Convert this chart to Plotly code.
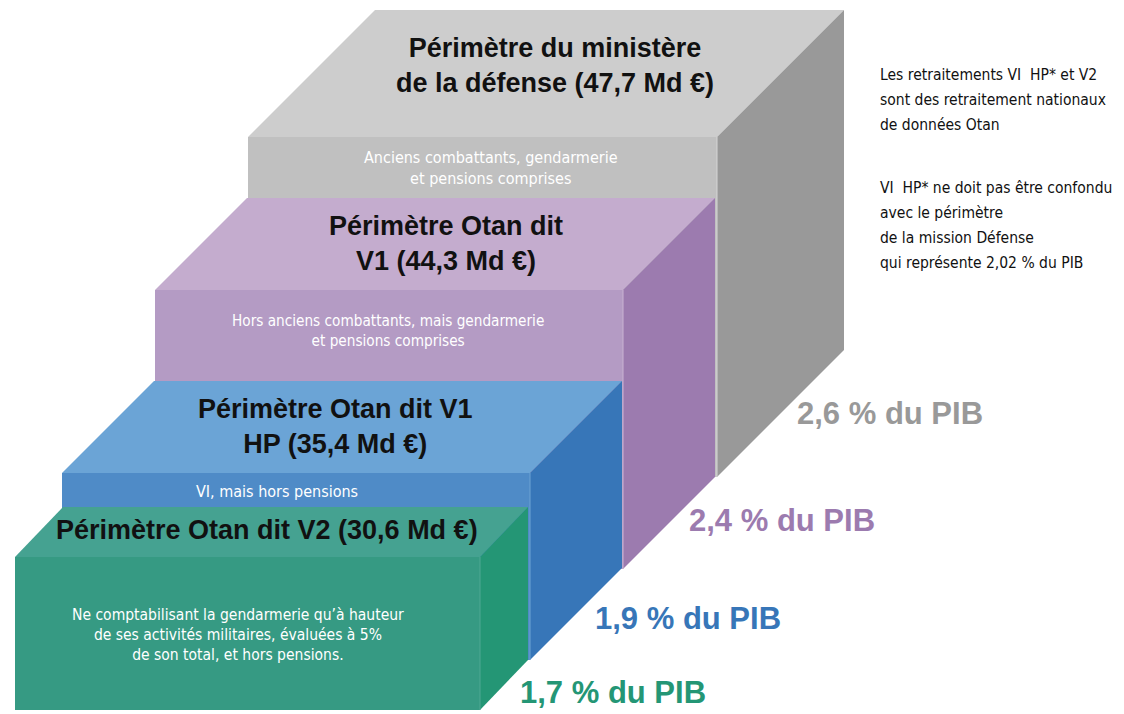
import plotly.graph_objects as go

# ---------------- data ----------------
perimetres = ["Périmètre du ministère<br>de la défense", "Périmètre Otan dit<br>V1",
              "Périmètre Otan dit V1<br>HP", "Périmètre Otan dit V2"]
montants_md = [47.7, 44.3, 35.4, 30.6]
pct_pib = [2.6, 2.4, 1.9, 1.7]
descriptions = [
    "Anciens combattants, gendarmerie<br>et pensions comprises",
    "Hors anciens combattants, mais gendarmerie<br>et pensions comprises",
    "VI, mais hors pensions",
    "Ne comptabilisant la gendarmerie qu’à hauteur<br>de ses activités militaires, évaluées à 5%<br>de son total, et hors pensions.",
]
notes = ["Les retraitements VI  HP* et V2", "sont des retraitement nationaux", "de données Otan", "",
         "VI  HP* ne doit pas être confondu", "avec le périmètre", "de la mission Défense",
         "qui représente 2,02 % du PIB"]

# ---------------- layout / geometry (axis units = page pixels) ----------------
# x0, x1 = front face left/right ; top, bottom = front face ; dx, dy = depth offset
geom = [
    dict(x0=248, x1=717, top=137, bottom=477, dx=127, dy=127),
    dict(x0=155, x1=623, top=290, bottom=569, dx=92, dy=92),
    dict(x0=62, x1=530, top=473, bottom=660, dx=92, dy=92),
    dict(x0=15, x1=480, top=557, bottom=710, dx=48, dy=50),
]
colors = [
    dict(top="#cdcdcd", front="#c0c0c0", side="#999999", label="#999999", edge="#d6d6d6"),
    dict(top="#c4acce", front="#b49bc4", side="#9c7baf", label="#9c7baf", edge="#c9b3d3"),
    dict(top="#6ba4d6", front="#4f8bc7", side="#3776b8", label="#3776b8", edge="#6fa3d3"),
    dict(top="#45a291", front="#369a83", side="#249675", label="#249675", edge="#4fa893"),
]
title_pos = [(555, 65.5), (446, 243), (335, 426.5), (267, 530)]
title_size = [27, 27, 27, 27]
desc_pos = [(491, 167.5), (388, 330.5), (277, 491), (238, 635)]
desc_size = [16, 15.2, 16, 15.5]
pib_pos = [(890, 413), (782, 520), (688, 618), (613, 692)]

TITLE_FONT = "Liberation Sans, Arial, sans-serif"
NARROW_FONT = "Liberation Sans Narrow, DejaVu Sans Condensed, Roboto, sans-serif"

PAGE_W, PAGE_H = 1124, 714

fig = go.Figure()

def poly(xs, ys, color):
    fig.add_trace(go.Scatter(x=xs + [xs[0]], y=ys + [ys[0]], fill="toself", mode="lines",
                             line=dict(width=0, color=color), fillcolor=color,
                             hoverinfo="skip", showlegend=False))

for g, c in zip(geom, colors):
    x0, x1, t, b, dx, dy = g["x0"], g["x1"], g["top"], g["bottom"], g["dx"], g["dy"]
    poly([x0, x1, x1 + dx, x0 + dx], [t, t, t - dy, t - dy], c["top"])      # top face
    poly([x0, x1, x1, x0], [t, t, b, b], c["front"])                         # front face
    poly([x1, x1 + dx, x1 + dx, x1], [t, t - dy, b - dy, b], c["side"])      # right face
    # thin light edge between front and right faces
    fig.add_trace(go.Scatter(x=[x1, x1], y=[t, b], mode="lines",
                             line=dict(width=1, color=c["edge"]),
                             hoverinfo="skip", showlegend=False))

annotations = []
for i in range(4):
    annotations.append(dict(
        x=title_pos[i][0], y=title_pos[i][1], xref="x", yref="y", showarrow=False,
        text=f"<b>{perimetres[i]} ({str(montants_md[i]).replace('.', ',')} Md €)</b>",
        font=dict(family=TITLE_FONT, size=title_size[i], color="#111111"),
        xanchor="center", yanchor="middle", align="center"))
    annotations.append(dict(
        x=desc_pos[i][0], y=desc_pos[i][1], xref="x", yref="y", showarrow=False,
        text=descriptions[i],
        font=dict(family=NARROW_FONT, size=desc_size[i], color="white"),
        xanchor="center", yanchor="middle", align="center"))
    annotations.append(dict(
        x=pib_pos[i][0], y=pib_pos[i][1], xref="x", yref="y", showarrow=False,
        text=f"<b>{str(pct_pib[i]).replace('.', ',')} % du PIB</b>",
        font=dict(family=TITLE_FONT, size=31, color=colors[i]["label"]),
        xanchor="center", yanchor="middle"))

note_y0 = 75
for k, line in enumerate(notes):
    if not line:
        continue
    yy = note_y0 + k * 25 + (13 if k >= 4 else 0)
    annotations.append(dict(
        x=878, y=yy, xref="x", yref="y", showarrow=False, text=line,
        font=dict(family=NARROW_FONT, size=15.5, color="#111111"),
        xanchor="left", yanchor="middle"))

fig.update_layout(
    width=PAGE_W, height=PAGE_H,
    margin=dict(l=0, r=0, t=0, b=0),
    paper_bgcolor="white", plot_bgcolor="white",
    xaxis=dict(range=[0, PAGE_W], visible=False, fixedrange=True),
    yaxis=dict(range=[PAGE_H, 0], visible=False, fixedrange=True),
    annotations=annotations, showlegend=False,
)

fig.write_html("out.html", config={"displayModeBar": False},
               post_script="document.body.style.margin='0px';document.body.style.overflow='hidden';")
